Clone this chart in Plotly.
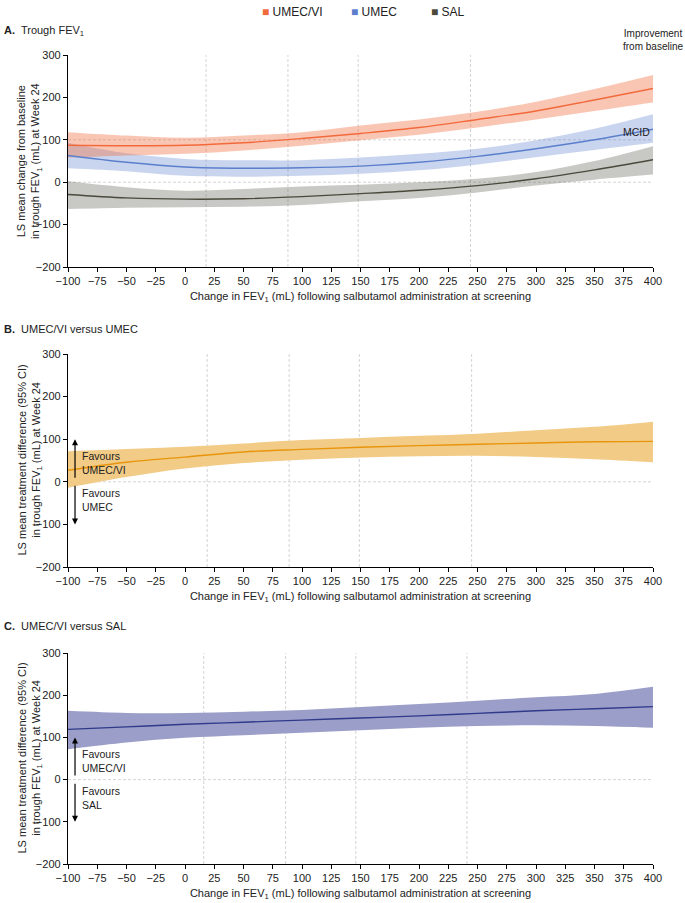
import plotly.graph_objects as go
from plotly.subplots import make_subplots

# ─── Data ─────────────────────────────────────────────────────────────────────
x_pts = [-100, -50, 0, 50, 100, 150, 200, 250, 300, 350, 400]

# Panel A: LS mean change from baseline in trough FEV1
umecvi_mean = [87, 86, 87, 93, 103, 115, 129, 148, 168, 194, 221]
umecvi_hi   = [118, 110, 105, 110, 118, 134, 148, 166, 190, 220, 253]
umecvi_lo   = [58, 63, 67, 75, 86, 99, 112, 129, 148, 168, 188]

umec_mean = [63, 47, 36, 33, 34, 38, 47, 61, 79, 100, 125]
umec_hi   = [93, 68, 55, 52, 52, 58, 67, 79, 99, 126, 160]
umec_lo   = [33, 26, 15, 13, 15, 20, 28, 42, 59, 76, 93]

sal_mean = [-29, -37, -40, -39, -34, -27, -19, -8, 8, 29, 53]
sal_hi   = [2, -12, -20, -16, -10, -6, 0, 8, 24, 50, 85]
sal_lo   = [-63, -60, -59, -58, -54, -45, -37, -24, -8, 6, 18]

# Panel B: UMEC/VI versus UMEC
diff_b_mean = [27, 46, 58, 70, 76, 81, 85, 88, 91, 94, 95]
diff_b_hi   = [72, 77, 82, 90, 98, 103, 108, 113, 121, 129, 141]
diff_b_lo   = [-14, 11, 31, 44, 52, 57, 60, 61, 58, 53, 46]

# Panel C: UMEC/VI versus SAL
diff_c_mean = [119, 125, 131, 136, 141, 146, 151, 157, 163, 168, 173]
diff_c_hi   = [163, 158, 158, 161, 165, 172, 179, 187, 195, 203, 220]
diff_c_lo   = [72, 88, 99, 105, 111, 117, 123, 127, 129, 127, 123]

# vertical reference lines (distribution markers) per panel
vlines_a = [18, 88, 148, 244]
vlines_b = [19, 89, 149, 245]
vlines_c = [16, 86, 146, 241]

x_ticks = list(range(-100, 401, 25))
y_ticks = [-200, -100, 0, 100, 200, 300]
mcid = 100

# ─── Theme ────────────────────────────────────────────────────────────────────
FONT = "Liberation Sans, Arial, sans-serif"
TXT = "#222222"
REF_CLR = "#d4d4d4"
REF_DASH = "3px,2px"

C_UMECVI = "#f26a3b"
C_UMEC = "#5b7fcc"
C_SAL = "#4a493c"
BAND_UMECVI = "rgba(242,106,59,0.38)"
BAND_UMEC = "rgba(91,127,204,0.33)"
BAND_SAL = "rgba(74,73,60,0.30)"
C_B_LINE, C_B_BAND = "#e8950c", "#f2cb86"
C_C_LINE, C_C_BAND = "#2f3a8a", "#9b9ec8"

fig = make_subplots(rows=3, cols=1)


def add_band(row, lo, hi, fill):
    fig.add_trace(go.Scatter(x=x_pts, y=lo, mode="lines", line=dict(width=0, shape="spline"),
                             showlegend=False, hoverinfo="skip"), row=row, col=1)
    fig.add_trace(go.Scatter(x=x_pts, y=hi, mode="lines", line=dict(width=0, shape="spline"),
                             fill="tonexty", fillcolor=fill, showlegend=False,
                             hoverinfo="skip"), row=row, col=1)


def add_line(row, y, color, name):
    fig.add_trace(go.Scatter(x=x_pts, y=y, mode="lines", name=name,
                             line=dict(color=color, width=1.4, shape="spline"),
                             showlegend=False), row=row, col=1)


# Panel A
add_band(1, sal_lo, sal_hi, BAND_SAL)
add_band(1, umec_lo, umec_hi, BAND_UMEC)
add_band(1, umecvi_lo, umecvi_hi, BAND_UMECVI)
add_line(1, sal_mean, C_SAL, "SAL")
add_line(1, umec_mean, C_UMEC, "UMEC")
add_line(1, umecvi_mean, C_UMECVI, "UMEC/VI")

# Panel B
add_band(2, diff_b_lo, diff_b_hi, C_B_BAND)
add_line(2, diff_b_mean, C_B_LINE, "UMEC/VI vs UMEC")

# Panel C
add_band(3, diff_c_lo, diff_c_hi, C_C_BAND)
add_line(3, diff_c_mean, C_C_LINE, "UMEC/VI vs SAL")

# ─── Axes ─────────────────────────────────────────────────────────────────────
H = 903.0
W_PLOT = 585.0
domains = [(55, 267), (354, 567), (653, 864)]
x_title = "Change in FEV<sub>1</sub> (mL) following salbutamol administration at screening"
y_titles = [
    "LS mean change from baseline<br>in trough FEV<sub>1</sub> (mL) at Week 24",
    "LS mean treatment difference (95% CI)<br>in trough FEV<sub>1</sub> (mL) at Week 24",
    "LS mean treatment difference (95% CI)<br>in trough FEV<sub>1</sub> (mL) at Week 24",
]
axis_common = dict(showline=True, linecolor="black", linewidth=1.3, ticks="outside",
                   ticklen=4, tickcolor="black", tickwidth=1.2, showgrid=False,
                   zeroline=False, automargin=False,
                   tickfont=dict(size=11, color=TXT, family=FONT))

for i, (top, bot) in enumerate(domains, start=1):
    fig.update_xaxes(row=i, col=1, range=[-100, 400], tickvals=x_ticks,
                     title=dict(text=x_title, font=dict(size=11, color=TXT), standoff=5),
                     domain=[0, 1], **axis_common)
    fig.update_yaxes(row=i, col=1, range=[-200, 300], tickvals=y_ticks,
                     domain=[1 - bot / H, 1 - top / H], **axis_common)

shapes = []
for i, vl in enumerate([vlines_a, vlines_b, vlines_c], start=1):
    xr = "x" if i == 1 else f"x{i}"
    yr = "y" if i == 1 else f"y{i}"
    for v in vl:
        shapes.append(dict(type="line", xref=xr, yref=f"{yr} domain", x0=v, x1=v, y0=0, y1=1,
                           line=dict(color=REF_CLR, width=1, dash=REF_DASH), layer="below"))
    hl = [0, mcid] if i == 1 else [0]
    for h in hl:
        shapes.append(dict(type="line", xref=f"{xr} domain", yref=yr, x0=0, x1=1, y0=h, y1=h,
                           line=dict(color=REF_CLR, width=1, dash=REF_DASH), layer="below"))

# ─── Annotations ──────────────────────────────────────────────────────────────
ann = []
panel_titles = [("A.", "Trough FEV<sub>1</sub>", 31), ("B.", "UMEC/VI versus UMEC", 329),
                ("C.", "UMEC/VI versus SAL", 626)]
for lab, txt, ypx in panel_titles:
    ann.append(dict(text=f"<b>{lab}</b>  {txt}", xref="paper", yref="paper", x=-66 / W_PLOT,
                    y=1 - ypx / H, xanchor="left", yanchor="middle", showarrow=False,
                    font=dict(size=11, color=TXT, family=FONT)))

# rotated y-axis titles, one per panel
for (top, bot), ytxt in zip(domains, y_titles):
    ann.append(dict(text=ytxt, textangle=-90, xref="paper", yref="paper",
                    x=(30 - 68) / W_PLOT, y=1 - (top + bot) / 2 / H, xanchor="center",
                    yanchor="middle", showarrow=False,
                    font=dict(size=11, color=TXT, family=FONT)))

# legend row
legend_items = [("UMEC/VI", C_UMECVI, 260), ("UMEC", C_UMEC, 349), ("SAL", C_SAL, 429)]
for name, col, xpx in legend_items:
    ann.append(dict(text=f'<span style="color:{col}">■</span> {name}', xref="paper", yref="paper",
                    x=(xpx - 68) / W_PLOT, y=1 - 12 / H, xanchor="left", yanchor="middle",
                    showarrow=False, font=dict(size=12, color=TXT, family=FONT)))

# panel A: MCID and improvement arrow
ann.append(dict(text="MCID", xref="x", yref="y", x=399, y=mcid, xanchor="right", yanchor="bottom",
                showarrow=False, font=dict(size=10.5, color=TXT, family=FONT)))
ann.append(dict(text="", xref="x", yref="y", x=403, y=295, ax=403, ay=0, axref="x", ayref="y",
                showarrow=True, arrowhead=2, arrowsize=1, arrowwidth=2, arrowcolor="#333333"))
ann.append(dict(text="Improvement<br>from baseline", xref="paper", yref="paper",
                x=(685 - 68) / W_PLOT, y=1 - 40 / H, xanchor="right", yanchor="middle",
                align="center", showarrow=False, font=dict(size=10, color=TXT, family=FONT)))

# panels B and C: favours arrows
for i, other in [(2, "UMEC"), (3, "SAL")]:
    xr, yr = f"x{i}", f"y{i}"
    ann.append(dict(text="", xref=xr, yref=yr, x=-94, y=100, ax=-94, ay=6, axref=xr, ayref=yr,
                    showarrow=True, arrowhead=2, arrowsize=1, arrowwidth=1.2, arrowcolor="black"))
    ann.append(dict(text="", xref=xr, yref=yr, x=-94, y=-100, ax=-94, ay=-6, axref=xr, ayref=yr,
                    showarrow=True, arrowhead=2, arrowsize=1, arrowwidth=1.2, arrowcolor="black"))
    ann.append(dict(text="Favours<br>UMEC/VI", xref=xr, yref=yr, x=-90, y=45, xanchor="left",
                    yanchor="middle", align="left", showarrow=False,
                    font=dict(size=10.5, color=TXT, family=FONT)))
    ann.append(dict(text=f"Favours<br>{other}", xref=xr, yref=yr, x=-90, y=-43, xanchor="left",
                    yanchor="middle", align="left", showarrow=False,
                    font=dict(size=10.5, color=TXT, family=FONT)))

fig.update_layout(
    width=685, height=903,
    autosize=False,
    margin=dict(l=68, r=32, t=0, b=0, autoexpand=False),
    paper_bgcolor="white", plot_bgcolor="white",
    font=dict(family=FONT, color=TXT),
    showlegend=False,
    shapes=shapes,
    annotations=ann,
)

# drop the browser's default body margin so the figure fills the window exactly
fig.write_html("out.html", config={"displayModeBar": False},
               post_script="document.body.style.margin='0px';")
